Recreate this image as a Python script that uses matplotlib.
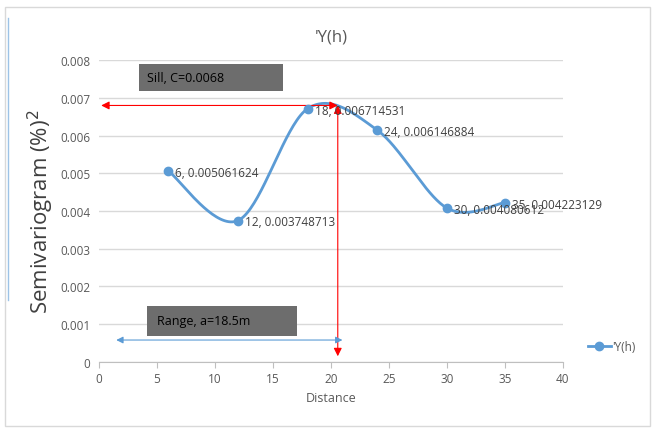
import numpy as np
import matplotlib
matplotlib.use("Agg")
import matplotlib.pyplot as plt
from matplotlib.patches import Rectangle

distance = [6, 12, 18, 24, 30, 35]
gamma = [0.005061624, 0.003748713, 0.006714531, 0.006146884, 0.004080612, 0.004223129]
labels = ["6, 0.005061624", "12, 0.003748713", "18, 0.006714531",
          "24, 0.006146884", "30, 0.004080612", "35, 0.004223129"]
x_ticks = [0, 5, 10, 15, 20, 25, 30, 35, 40]
y_ticks = [0, 0.001, 0.002, 0.003, 0.004, 0.005, 0.006, 0.007, 0.008]
y_tick_labels = ["0", "0.001", "0.002", "0.003", "0.004", "0.005", "0.006", "0.007", "0.008"]
sill = 0.0068
range_x = 20.6
range_arrow = (1.5, 21.0, 0.00058)

plt.rcParams['font.family'] = ['Open Sans', 'DejaVu Sans']

fig = plt.figure(figsize=(6.59, 4.31), dpi=100)
ax = fig.add_axes([0.150, 0.158, 0.704, 0.700])

# outer border
fig.patches.append(Rectangle((5/659, 4/431), 645/659, 419/431, transform=fig.transFigure,
                             fill=False, edgecolor='#d9d9d9', linewidth=1))
fig.add_artist(plt.Line2D([8/659, 8/659], [130/431, 412/431], color='#9dc3e6', lw=1, transform=fig.transFigure))

# smooth curve (Catmull-Rom style, in scaled coordinates)
sx, sy = 464/40, 302/0.008
P = np.column_stack([np.array(distance) * sx, np.array(gamma) * sy])
pts = []
n = len(P)
for i in range(n - 1):
    p0 = P[i - 1] if i > 0 else P[i]
    p1, p2 = P[i], P[i + 1]
    p3 = P[i + 2] if i + 2 < n else P[i + 1]
    c1 = p1 + (p2 - p0) / 6
    c2 = p2 - (p3 - p1) / 6
    t = np.linspace(0, 1, 40)[:, None]
    seg = (1-t)**3*p1 + 3*(1-t)**2*t*c1 + 3*(1-t)*t**2*c2 + t**3*p2
    pts.append(seg)
C = np.vstack(pts)
ax.plot(C[:, 0] / sx, C[:, 1] / sy, color='#5b9bd5', lw=2, zorder=3)
ax.plot(distance, gamma, 'o', color='#5b9bd5', ms=6, zorder=4)
leg_line, = ax.plot([], [], '-o', color='#5b9bd5', lw=2, ms=6, label="'Y(h)")

for xv, yv, lab in zip(distance, gamma, labels):
    ax.annotate(lab, (xv, yv), xytext=(5, -1), textcoords='offset points',
                fontsize=8.5, color='#404040', va='center', ha='left', zorder=5)

ax.set_xlim(0, 40)
ax.set_ylim(0, 0.008)
ax.set_xticks(x_ticks)
ax.set_yticks(y_ticks)
ax.set_yticklabels(y_tick_labels)
ax.tick_params(axis='both', colors='#595959', labelsize=8.5)
ax.tick_params(axis='y', length=0, pad=6)
ax.tick_params(axis='x', length=4, color='#bfbfbf', direction='out')
ax.grid(axis='y', color='#d9d9d9', lw=1)
ax.set_axisbelow(True)
for s in ['top', 'right', 'left']:
    ax.spines[s].set_visible(False)
ax.spines['bottom'].set_color('#bfbfbf')

ax.set_xlabel('Distance', color='#595959', fontsize=9)
ax.set_ylabel('Semivariogram (%)$^2$', color='#404040', fontsize=16, labelpad=3)
ax.set_title("'Y(h)", color='#595959', fontsize=12, pad=14)

# sill arrows
ax.annotate('', xy=(0.2, sill), xytext=(range_x, sill),
            arrowprops=dict(arrowstyle='<|-|>', color='red', lw=0.8, mutation_scale=12, shrinkA=0, shrinkB=0))
ax.annotate('', xy=(range_x, sill), xytext=(range_x, 0.00015),
            arrowprops=dict(arrowstyle='<|-|>', color='red', lw=0.8, mutation_scale=12, shrinkA=0, shrinkB=0))
ax.annotate('', xy=(range_arrow[0], range_arrow[2]), xytext=(range_arrow[1], range_arrow[2]),
            arrowprops=dict(arrowstyle='<|-|>', color='#5b9bd5', lw=0.8, mutation_scale=10, shrinkA=0, shrinkB=0))

# text boxes
fig.patches.append(Rectangle((139/659, (431-92)/431), 144/659, 27/431, transform=fig.transFigure,
                             facecolor='#6d6d6d', edgecolor='none', zorder=5))
fig.text(147/659, (431-79)/431, 'Sill, C=0.0068', fontsize=9, color='black', va='center', zorder=6)
fig.patches.append(Rectangle((147/659, (431-337)/431), 150/659, 30/431, transform=fig.transFigure,
                             facecolor='#6d6d6d', edgecolor='none', zorder=5))
fig.text(157/659, (431-322)/431, 'Range, a=18.5m', fontsize=9, color='black', va='center', zorder=6)

fig.legend(handles=[leg_line], loc='center left', bbox_to_anchor=(577/659, (431-348)/431),
           frameon=False, fontsize=8.5, labelcolor='#595959', handlelength=2, handletextpad=0.1)

fig.savefig('out.png', dpi=100)
